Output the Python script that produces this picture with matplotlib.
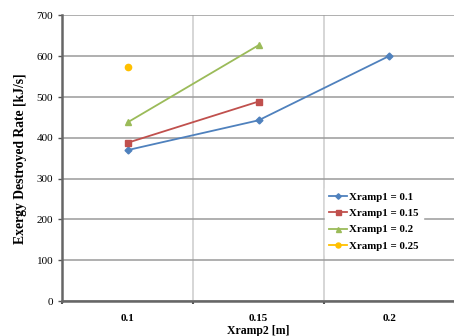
import numpy as np
import matplotlib.pyplot as plt

# exergy destroyed rate vs second ramp position, one series per Xramp1
categories = ["0.1", "0.15", "0.2"]
xramp1_01 = [370, 443, 601]
xramp1_015 = [388, 489]
xramp1_02 = [438, 627]
xramp1_025 = [573]

plt.rcParams['font.family'] = ['Liberation Serif', 'DejaVu Serif']

fig = plt.figure(figsize=(4.54, 3.36), dpi=100)
ax = fig.add_axes([0.137, 0.104, 0.865, 0.850])

series = [
    (xramp1_01, "#4F81BD", "D", 3.5, "Xramp1 = 0.1"),
    (xramp1_015, "#C0504D", "s", 4.5, "Xramp1 = 0.15"),
    (xramp1_02, "#9BBB59", "^", 4.5, "Xramp1 = 0.2"),
    (xramp1_025, "#FFC000", "o", 4.5, "Xramp1 = 0.25"),
]
for vals, col, mk, ms, lab in series:
    x = np.arange(len(vals))
    ax.plot(x, vals, color=col, marker=mk, markersize=ms, lw=1.3, label=lab)

ax.set_xlim(-0.5, 2.5)
ax.set_ylim(0, 700)
ax.set_yticks(np.arange(0, 701, 100))
ax.set_xticks(np.arange(len(categories)))
ax.set_xticklabels(categories, fontweight='bold')
ax.set_xticks([-0.5, 0.5, 1.5, 2.5], minor=True)
ax.tick_params(axis='x', which='major', length=0, pad=9, labelsize=8)
ax.tick_params(axis='x', which='minor', length=2, width=1.5, color='#555555')
ax.tick_params(axis='y', length=3, width=1, color='#555555', labelsize=8)

ax.grid(axis='y', color='#9a9a9a', lw=1.1)
ax.grid(axis='x', which='minor', color='#cccccc', lw=1.1)
ax.set_axisbelow(True)

for side in ['top', 'right']:
    ax.spines[side].set_visible(False)
for side in ['left', 'bottom']:
    ax.spines[side].set_color('#666666')
    ax.spines[side].set_linewidth(1.8)

ax.set_xlabel("Xramp2 [m]", fontweight='bold', fontsize=8.5, labelpad=2)
ax.set_ylabel("Exergy Destroyed Rate [kJ/s]", fontweight='bold', fontsize=9.8, labelpad=7)

leg = ax.legend(loc='upper left', bbox_to_anchor=(0.655, 0.415), frameon=True,
                fancybox=False, edgecolor='white', framealpha=1,
                prop={'weight': 'bold', 'size': 7.8}, handlelength=1.6,
                handletextpad=0.2, labelspacing=0.62, borderpad=0.4,
                markerscale=0.8)

fig.savefig("out.png", dpi=100)
